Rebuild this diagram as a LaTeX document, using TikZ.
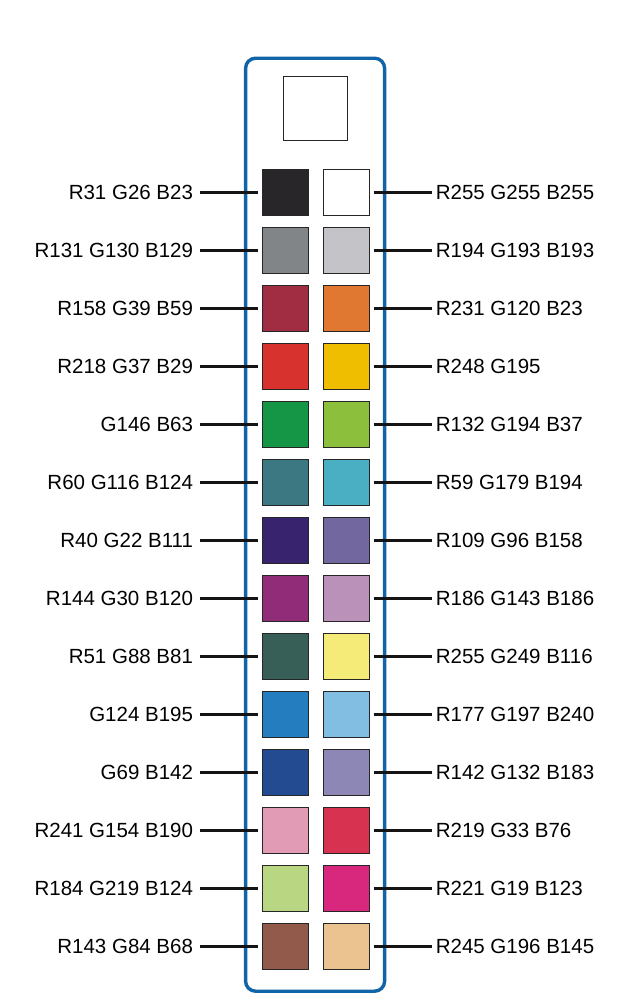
\documentclass[tikz,border=0pt]{standalone}
\usepackage{fontspec}
\setmainfont{Liberation Sans}
\usepackage{xcolor}
\usetikzlibrary{positioning}

\definecolor{frameblue}{RGB}{18,100,168}

\begin{document}
\begin{tikzpicture}[
  x=1pt, y=-1pt, font=\fontsize{20.5}{23}\selectfont,
  rack/.style={draw=frameblue, line width=3.4pt, rounded corners=10pt, minimum width=139pt, minimum height=933pt, inner sep=0pt},
  swatch/.style={draw=black!85, line width=0.8pt, minimum width=46pt, minimum height=46pt, inner sep=0pt},
  lbl/.style={inner sep=0pt, outer sep=0pt},
  lead/.style={line width=3pt, color=black!92},
]
\useasboundingbox (0,0) rectangle (631,1001);

\node[rack] (rack) at (315.1,524.7) {};
\node[swatch, minimum width=64pt, minimum height=64pt] (top) at (315.3,108) {};

% one row per colour pair: left fill / left text / right fill / right text
\foreach \lrgb/\ltxt/\rrgb/\rtxt [count=\i] in {
  {40,38,40}/{R31 G26 B23}/{255,255,255}/{R255 G255 B255},
  {130,133,135}/{R131 G130 B129}/{195,195,200}/{R194 G193 B193},
  {160,45,65}/{R158 G39 B59}/{225,120,50}/{R231 G120 B23},
  {215,50,45}/{R218 G37 B29}/{240,190,0}/{R248 G195},
  {20,150,70}/{G146 B63}/{140,192,60}/{R132 G194 B37},
  {60,120,130}/{R60 G116 B124}/{75,175,195}/{R59 G179 B194},
  {55,35,110}/{R40 G22 B111}/{115,103,160}/{R109 G96 B158},
  {145,45,120}/{R144 G30 B120}/{185,145,185}/{R186 G143 B186},
  {55,95,88}/{R51 G88 B81}/{245,235,120}/{R255 G249 B116},
  {35,125,190}/{G124 B195}/{130,190,225}/{R177 G197 B240},
  {35,75,145}/{G69 B142}/{140,135,180}/{R142 G132 B183},
  {225,155,180}/{R241 G154 B190}/{215,50,80}/{R219 G33 B76},
  {185,215,130}/{R184 G219 B124}/{215,40,125}/{R221 G19 B123},
  {145,90,75}/{R143 G84 B68}/{235,195,145}/{R245 G196 B145}} {
  \definecolor{lc\i}{RGB}{\lrgb}
  \definecolor{rc\i}{RGB}{\rrgb}
  \pgfmathsetmacro{\rowy}{192.8+(\i-1)*57.96}
  \node[swatch, fill=lc\i] (l\i) at (285.1,\rowy) {};
  \node[swatch, fill=rc\i] (r\i) at (346.3,\rowy) {};
  \node[lbl, anchor=east] (lt\i) at (193,\rowy) {\ltxt};
  \node[lbl, anchor=west] (rt\i) at (435.8,\rowy) {\rtxt};
  \draw[lead, shorten <=7pt, shorten >=4pt] (lt\i.east) -- (l\i.west);
  \draw[lead, shorten <=4pt, shorten >=4.3pt] (r\i.east) -- (rt\i.west);
}
\end{tikzpicture}
\end{document}
